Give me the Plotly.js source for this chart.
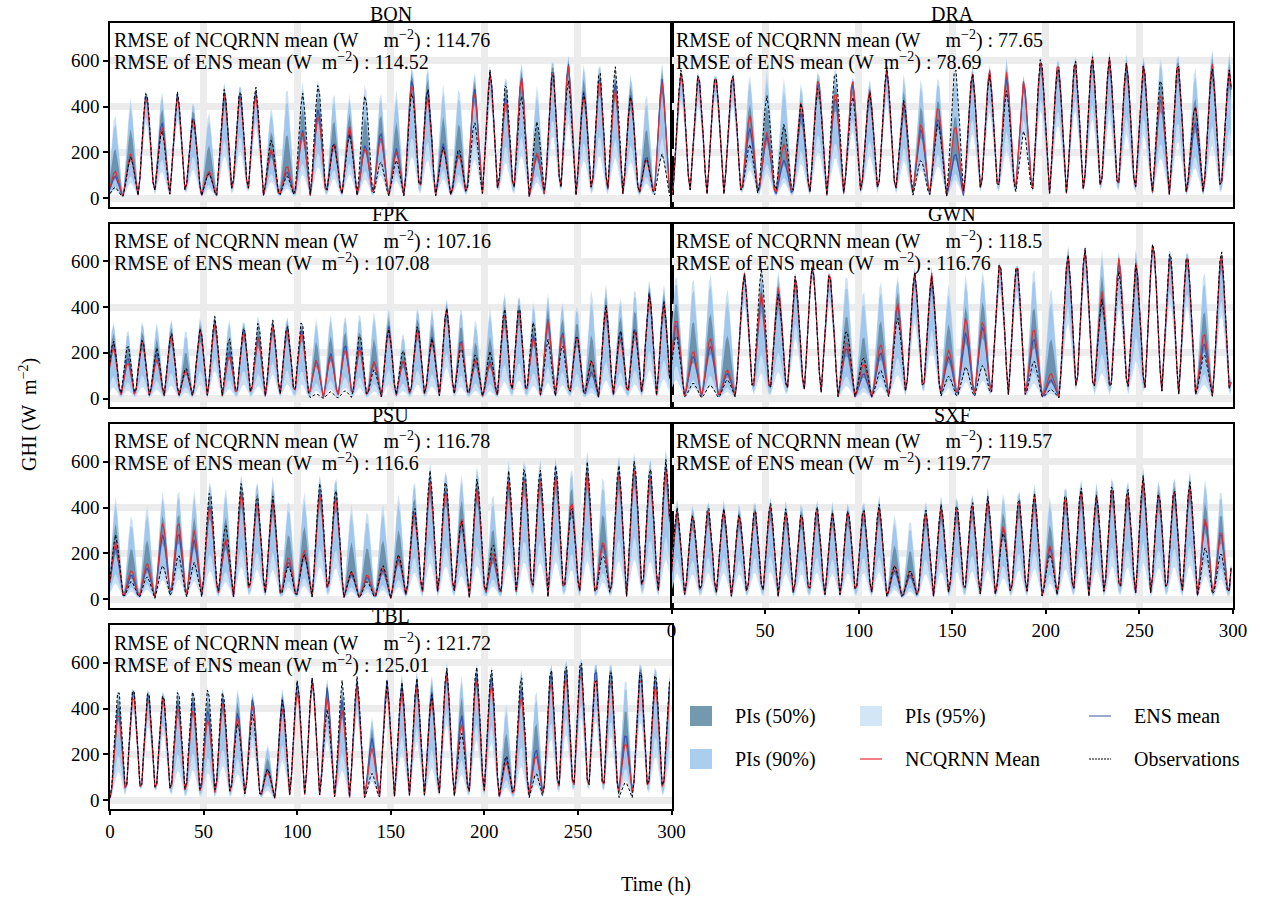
<!DOCTYPE html>
<html><head><meta charset="utf-8">
<script src="https://cdn.plot.ly/plotly-3.0.1.min.js"></script>
<style>html,body{margin:0;padding:0;background:#fff}#chart{width:1261px;height:898px}</style>
</head><body><div id="chart"></div>
<script>
// ---------------- DATA ----------------
const stations = ['BON','DRA','FPK','GWN','PSU','SXF','TBL'];
const rmseNcq = ['114.76','77.65','107.16','118.5','116.78','119.57','121.72'];
const rmseEns = ['114.52','78.69','107.08','116.76','116.6','119.77','125.01'];
// time of first daily peak (h) and mean daylight length (h) per station
const firstPeak = [2.7, 5.2, 1.8, 2.5, 3, 3, 4.5];
const dayLength = [8.35, 9.15, 7.74, 9.1, 8.4, 8.3, 7.97];
// lowest 95% bound at the daily peak, as a fraction of the ENS mean
const lowFloor = [0.35, 0.4, 0.2, 0.25, 0.3, 0.3, 0.3];
// normalised diurnal profile (fraction of the daylight period, 0..1 in steps of 0.1)
const dayShape = [0.02, 0.2, 0.45, 0.68, 0.88, 1.0, 0.88, 0.68, 0.45, 0.2, 0.02];
const xTicks = [0, 50, 100, 150, 200, 250, 300];
const yTicks = [0, 200, 400, 600];

// daily peak values (W m-2): observations, ENS mean, NCQRNN mean, upper 95% bound
const obsBON = [48,180,484,304,472,363,110,485,490,495,260,100,465,510,250,280,465,165,165,480,495,224,224,341,568,524,458,341,575,524,472,582,582,458,180,195];
const ensBON = [100,190,473,341,461,370,115,470,480,475,210,120,300,400,250,300,240,297,217,539,495,239,209,495,560,465,539,195,590,597,480,553,509,465,187,524];
const ncqBON = [121,195,458,319,450,363,120,465,465,458,220,145,290,370,245,315,225,275,202,517,458,217,195,473,553,443,539,202,583,590,458,539,480,450,173,509];
const hiBON  = [378,443,495,480,480,443,385,517,524,502,407,502,517,539,480,458,517,480,473,604,597,502,502,568,582,560,612,502,641,641,604,619,590,560,473,597];

const obsDRA = [575,560,553,560,240,450,326,429,505,575,458,470,575,436,170,341,590,560,545,472,300,634,597,626,634,619,597,597,540,612,414,575,560];
const ensDRA = [560,553,553,553,312,275,168,385,524,458,517,465,560,414,312,363,200,553,560,531,517,612,597,612,619,605,590,590,451,605,341,590,550];
const ncqDRA = [560,553,553,553,370,290,239,429,539,480,531,480,568,429,334,414,326,560,568,553,524,619,612,619,626,619,597,597,472,612,414,597,560];
const hiDRA  = [582,575,570,575,553,568,531,517,582,597,553,531,582,553,539,553,590,597,590,619,553,648,641,648,663,648,641,641,640,663,590,663,640];

const obsFPK = [259,244,266,222,295,140,317,360,273,324,339,346,331,353,20,30,35,290,128,310,220,331,266,404,230,200,208,404,419,346,259,240,288,171,411,310,317,469,426];
const ensFPK = [251,186,266,200,290,130,310,339,215,317,280,324,324,317,171,200,244,240,164,324,171,324,273,404,266,171,164,382,411,288,346,300,288,121,404,302,324,477,433];
const ncqFPK = [230,164,259,171,285,125,302,324,193,302,273,317,317,302,171,186,222,225,164,310,175,310,259,397,259,179,157,375,404,273,339,290,280,171,397,273,310,462,419];
const hiFPK  = [346,317,353,339,360,317,368,375,360,360,375,360,375,360,360,375,382,390,390,404,300,419,404,448,419,360,404,477,477,440,462,440,430,491,506,462,506,535,506];

const obsGWN = [288,70,60,84,549,570,462,549,593,564,310,186,128,360,557,535,99,142,150,615,608,171,41,644,666,433,564,600,702,666,651,200,666,300];
const ensGWN = [339,193,237,113,549,448,469,528,593,564,230,113,208,419,549,528,186,295,324,608,600,273,84,637,658,448,615,600,695,651,644,251,637,420];
const ncqGWN = [360,215,273,128,557,462,491,542,600,571,259,157,244,426,557,549,215,360,346,615,608,317,113,637,658,469,622,608,695,637,651,295,651,430];
const hiGWN  = [564,549,564,491,571,578,564,571,600,585,564,491,530,549,585,578,506,557,578,629,622,593,498,687,680,651,651,672,709,687,680,578,680,640];

const obsPSU = [280,80,100,150,200,160,490,330,520,470,450,150,200,520,500,120,80,150,200,420,560,540,350,540,250,560,600,580,600,420,600,200,600,620,600,610];
const ensPSU = [230,110,140,290,300,260,430,260,480,450,430,170,200,480,470,110,100,130,180,400,520,500,350,500,190,520,560,540,560,440,560,250,570,590,570,580];
const ncqPSU = [250,130,160,340,350,300,420,270,470,440,420,190,220,470,460,120,110,140,190,390,510,490,360,490,210,510,550,530,550,440,550,260,560,580,560,570];
const hiPSU  = [450,380,420,480,500,480,540,500,560,540,540,450,480,560,560,420,400,430,470,540,600,590,560,600,480,610,640,630,640,600,650,560,650,660,650,660];

const obsSXF = [400,380,420,400,380,410,430,400,390,420,380,400,410,420,150,130,400,420,430,440,450,300,460,470,200,480,500,460,520,500,540,480,500,520,230,210,400];
const ensSXF = [380,370,400,390,370,400,410,380,380,400,370,390,400,400,130,110,380,400,410,420,430,320,440,450,230,460,480,450,500,480,520,470,490,500,350,300,380];
const ncqSXF = [385,375,405,395,375,405,415,385,385,405,375,395,405,405,150,130,385,405,415,425,435,330,445,455,240,465,485,455,505,485,525,475,495,505,360,310,385];
const hiSXF  = [440,430,450,440,430,450,460,440,440,450,430,440,450,460,380,360,440,460,470,480,490,480,500,510,460,520,540,520,560,540,580,540,560,570,540,500,460];

const obsTBL = [505,512,498,483,498,498,505,490,348,388,139,447,534,542,402,527,542,117,527, 520,540,470,590,300,600,590,200,560,120,600,620,640,560,600,80,590,580,560];
const ensTBL = [432,505,490,476,447,454,410,461,395,454,139,454,527,542,498,439,520,271,527, 510,530,480,580,380,570,560,190,510,230,580,600,620,600,590,300,600,560,540];
const ncqTBL = [395,476,461,469,425,410,366,439,373,425,124,410,483,520,454,395,498,227,490, 480,500,450,560,340,540,520,170,470,200,540,560,580,560,550,260,560,520,500];
const hiTBL  = [512,522,515,505,512,512,520,512,505,490,249,500,537,550,537,530,545,366,537, 560,575,560,620,560,620,610,440,600,500,630,650,660,640,640,560,640,620,600];

// ---------------- BUILD ----------------
const obsAll = [obsBON,obsDRA,obsFPK,obsGWN,obsPSU,obsSXF,obsTBL];
const ensAll = [ensBON,ensDRA,ensFPK,ensGWN,ensPSU,ensSXF,ensTBL];
const ncqAll = [ncqBON,ncqDRA,ncqFPK,ncqGWN,ncqPSU,ncqSXF,ncqTBL];
const hiAll  = [hiBON,hiDRA,hiFPK,hiGWN,hiPSU,hiSXF,hiTBL];
const hours = Array.from({length:300},(_,i)=>i);

const FONT = 'Liberation Serif, Times New Roman, Times, serif';
const W = 1261, H = 898;
const colX = [110, 671.5], colW = 561.5;
const rowY = [23, 223.5, 424, 625], rowH = 183.5;
const panelCol = [0,1,0,1,0,1,0];
const panelRow = [0,0,1,1,2,2,3];
const showX = [false,false,false,false,false,true,true];
const px = x => x / W, py = y => 1 - y / H;
const NB = '\u00A0';

const C95 = 'rgba(196,220,243,0.85)';
const C90 = 'rgba(150,194,234,0.8)';
const C50 = 'rgba(55,92,110,0.5)';

function shapeAt(f){
  const i = f*10; const i0 = Math.max(0, Math.min(9, Math.floor(i))); const w = i - i0;
  return dayShape[i0]*(1-w) + dayShape[i0+1]*w;
}
function hourly(p, pk){
  const P = dayLength[p], s0 = firstPeak[p] - P/2;
  return hours.map(t => {
    const u = (t - s0)/P; let d = Math.floor(u), f = u - d;
    if (d < 0) { d = 0; f = 0; }
    if (d >= pk.length) { d = pk.length - 1; f = 1; }
    return pk[d]*shapeAt(f);
  });
}

const data = [];
const layout = {
  width: W, height: H, margin:{l:0,r:0,t:0,b:0},
  paper_bgcolor:'white', plot_bgcolor:'white', showlegend:false,
  font:{family:FONT, size:19, color:'black'},
  annotations:[], shapes:[]
};

stations.forEach((st, p) => {
  const ax = p === 0 ? '' : String(p+1);
  const xa = 'x'+ax, ya = 'y'+ax;
  const ens = ensAll[p], hi = hiAll[p].map((h,i)=>Math.max(h, ens[i]+8));
  const lo = ens.map((e,i)=>Math.max(lowFloor[p]*e, e - 6*(hi[i]-e)));
  const band = (a, b) => ens.map((e,i)=> e + a*(hi[i]-e) - b*(e-lo[i]));
  const u95 = hi, l95 = lo;
  const u90 = band(0.85, 0), l90 = band(0, 0.75);
  const u50 = band(0.45, 0), l50 = band(0, 0.2);
  const base = {type:'scatter', mode:'lines', x:hours, xaxis:xa, yaxis:ya, hoverinfo:'skip', showlegend:false};
  const pairs = [[l95,u95,C95],[l90,u90,C90],[l50,u50,C50]];
  pairs.forEach(([l,u,c]) => {
    data.push(Object.assign({}, base, {y:hourly(p,l), line:{width:0,color:'rgba(0,0,0,0)'}}));
    data.push(Object.assign({}, base, {y:hourly(p,u), line:{width:0,color:'rgba(0,0,0,0)'}, fill:'tonexty', fillcolor:c}));
  });
  data.push(Object.assign({}, base, {y:hourly(p,ens), line:{width:1.2,color:'#3552b0'}}));
  data.push(Object.assign({}, base, {y:hourly(p,ncqAll[p]), line:{width:1.1,color:'#ea2a2f'}}));
  data.push(Object.assign({}, base, {y:hourly(p,obsAll[p]), line:{width:1,color:'black',dash:'3px,2px'}}));

  const c = panelCol[p], r = panelRow[p];
  const x0 = colX[c], x1 = colX[c] + colW, y0 = rowY[r], y1 = rowY[r] + rowH;
  layout['xaxis'+ax] = {
    domain:[px(x0), px(x1)], range:[0,300], anchor:ya,
    tickmode:'array', tickvals:xTicks, ticktext:xTicks.map(String),
    showgrid:true, gridcolor:'#ececec', gridwidth:7, zeroline:false,
    showline:true, mirror:true, linecolor:'black', linewidth:1.6,
    ticks: showX[p] ? 'outside' : '', ticklen:5, tickwidth:1.5, tickcolor:'black',
    showticklabels: showX[p]
  };
  layout['yaxis'+ax] = {
    domain:[py(y1), py(y0)], range:[-37,765], anchor:xa,
    tickmode:'array', tickvals:yTicks, ticktext:yTicks.map(String),
    showgrid:true, gridcolor:'#ececec', gridwidth:7, zeroline:false,
    showline:true, mirror:true, linecolor:'black', linewidth:1.6,
    ticks: c === 0 ? 'outside' : '', ticklen:5, tickwidth:1.5, tickcolor:'black',
    showticklabels: c === 0
  };
  layout.annotations.push({text:st, xref:'paper', yref:'paper', x:px((x0+x1)/2), y:py(y0-9),
    xanchor:'center', yanchor:'middle', showarrow:false, font:{family:FONT,size:20,color:'black'}});
  layout.annotations.push({text:'RMSE of NCQRNN mean (W' + NB.repeat(5) + 'm<sup>−2</sup>) : ' + rmseNcq[p], xref:'paper', yref:'paper',
    x:px(x0+2), y:py(y0+17), xanchor:'left', yanchor:'middle', showarrow:false, font:{family:FONT,size:20,color:'black'}});
  layout.annotations.push({text:'RMSE of ENS mean (W' + NB.repeat(2) + 'm<sup>−2</sup>) : ' + rmseEns[p], xref:'paper', yref:'paper',
    x:px(x0+2), y:py(y0+39), xanchor:'left', yanchor:'middle', showarrow:false, font:{family:FONT,size:20,color:'black'}});
});

layout.annotations.push({text:'Time (h)', xref:'paper', yref:'paper', x:px(656), y:py(884), xanchor:'center', yanchor:'middle',
  showarrow:false, font:{family:FONT,size:20,color:'black'}});
layout.annotations.push({text:'GHI (W' + NB.repeat(2) + 'm<sup>−2</sup>)', xref:'paper', yref:'paper', x:px(28), y:py(415), xanchor:'center', yanchor:'middle',
  textangle:-90, showarrow:false, font:{family:FONT,size:20,color:'black'}});

const legendItems = [
  {label:'PIs (50%)', kind:'box', color:'#7399ae', x:690, y:716},
  {label:'PIs (95%)', kind:'box', color:'#d3e6f6', x:860, y:716},
  {label:'ENS mean', kind:'line', color:'#5a6fb0', dash:'solid', x:1089, y:716},
  {label:'PIs (90%)', kind:'box', color:'#aacfee', x:690, y:759},
  {label:'NCQRNN Mean', kind:'line', color:'#ea2a2f', dash:'solid', x:860, y:759},
  {label:'Observations', kind:'line', color:'black', dash:'2px,1px', x:1089, y:759}
];
legendItems.forEach(it => {
  if (it.kind === 'box') {
    layout.shapes.push({type:'rect', xref:'paper', yref:'paper', x0:px(it.x), x1:px(it.x+22), y0:py(it.y+10), y1:py(it.y-10),
      fillcolor:it.color, line:{width:0}});
  } else {
    layout.shapes.push({type:'line', xref:'paper', yref:'paper', x0:px(it.x), x1:px(it.x+22), y0:py(it.y), y1:py(it.y),
      line:{color:it.color, width:1.2, dash:it.dash}});
  }
  layout.annotations.push({text:it.label, xref:'paper', yref:'paper', x:px(it.x+43), y:py(it.y), xanchor:'left', yanchor:'middle',
    showarrow:false, font:{family:FONT,size:20,color:'black'}});
});

Plotly.newPlot('chart', data, layout, {displayModeBar:false});
</script>
</body></html>
